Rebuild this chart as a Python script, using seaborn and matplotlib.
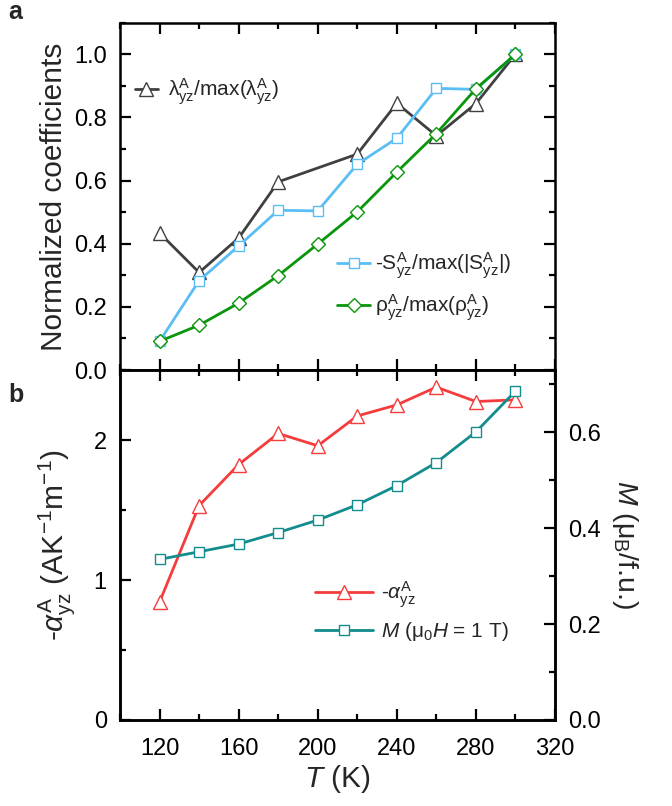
import numpy as np
import matplotlib
matplotlib.use("Agg")
import matplotlib.pyplot as plt
from matplotlib.ticker import MultipleLocator
import seaborn as sns

# ---- data ----
T = [120, 140, 160, 180, 200, 220, 240, 260, 280, 300]
T_lam = [120, 140, 160, 180, 220, 240, 260, 280, 300]   # no point at 200 K
lam_norm = [0.434, 0.309, 0.418, 0.596, 0.684, 0.845, 0.742, 0.844, 1.0]
S_norm = [0.091, 0.283, 0.393, 0.506, 0.504, 0.652, 0.734, 0.892, 0.889, 1.0]
rho_norm = [0.091, 0.142, 0.212, 0.299, 0.399, 0.501, 0.627, 0.749, 0.891, 1.0]

alpha = [0.843, 1.532, 1.825, 2.047, 1.959, 2.172, 2.251, 2.378, 2.275, 2.287]
M = [0.335, 0.351, 0.367, 0.391, 0.417, 0.449, 0.489, 0.537, 0.601, 0.686]

C_LAM = "#404040"
C_S = "#5ABEF5"
C_RHO = "#0A960A"
C_ALPHA = "#F53C3C"
C_M = "#128C8C"

sns.set_theme(style="ticks")
plt.rcParams["font.family"] = ["Liberation Sans", "DejaVu Sans"]
plt.rcParams["mathtext.fontset"] = "custom"
plt.rcParams["mathtext.rm"] = "Liberation Sans"
plt.rcParams["mathtext.it"] = "Liberation Sans:italic"
plt.rcParams["mathtext.default"] = "rm"

fig = plt.figure(figsize=(6.72, 8.06), dpi=100)
ax1 = fig.add_axes([0.1786, 0.5409, 0.6473, 0.4309])
ax2 = fig.add_axes([0.1786, 0.1067, 0.6473, 0.4342])
ax3 = ax2.twinx()

LW = 2.0
style = dict(markerfacecolor="white", markeredgewidth=1.0, lw=LW, legend=False)

# ---- panel a ----
sns.lineplot(x=T_lam, y=lam_norm, ax=ax1, color=C_LAM, marker="^", markersize=9.5,
             markeredgecolor=C_LAM, label=r"$\lambda^{A}_{yz}$/max($\lambda^{A}_{yz}$)", **style)
sns.lineplot(x=T, y=S_norm, ax=ax1, color=C_S, marker="s", markersize=7,
             markeredgecolor=C_S, label=r"-S$^{A}_{yz}$/max(|S$^{A}_{yz}$|)", **style)
sns.lineplot(x=T, y=rho_norm, ax=ax1, color=C_RHO, marker="D", markersize=7,
             markeredgecolor=C_RHO, label=r"$\rho^{A}_{yz}$/max($\rho^{A}_{yz}$)", **style)

# ---- panel b ----
sns.lineplot(x=T, y=alpha, ax=ax2, color=C_ALPHA, marker="^", markersize=9.5,
             markeredgecolor=C_ALPHA, label=r"-$\mathit{\alpha}^{A}_{yz}$", **style)
sns.lineplot(x=T, y=M, ax=ax3, color=C_M, marker="s", markersize=7,
             markeredgecolor=C_M, label=r"$\mathit{M}$ ($\mu_0\mathit{H}$ = 1 T)", **style)

TICK_FS = 17
LABEL_FS = 21.5
LEG_FS = 15

for ax in (ax1, ax2, ax3):
    ax.set_xlim(100, 320)
    for sp in ax.spines.values():
        sp.set_linewidth(1.8)
        sp.set_color("black")
    ax.tick_params(which="both", direction="in", width=1.6, colors="black",
                   labelsize=TICK_FS)
    ax.tick_params(which="major", length=8)
    ax.tick_params(which="minor", length=4.5)
    ax.tick_params(axis="y", which="major", pad=9.5)
    ax.tick_params(axis="x", which="major", pad=13)
    ax.xaxis.set_major_locator(MultipleLocator(40))
    ax.xaxis.set_minor_locator(MultipleLocator(20))

ax1.set_ylim(0, 1.1)
ax1.yaxis.set_major_locator(MultipleLocator(0.2))
ax1.yaxis.set_minor_locator(MultipleLocator(0.1))
ax1.yaxis.set_major_formatter(plt.FormatStrFormatter("%.1f"))
ax1.tick_params(which="both", top=True, right=True, bottom=True, left=True,
                labelbottom=False)
ax1.set_xlabel("")
ax1.set_ylabel("Normalized coefficients", fontsize=LABEL_FS, labelpad=4)

ax2.set_ylim(0, 2.5)
ax2.yaxis.set_major_locator(MultipleLocator(1))
ax2.yaxis.set_minor_locator(MultipleLocator(0.5))
ax2.tick_params(which="both", top=True, bottom=True, left=True, right=False)
ax2.set_xlabel(r"$\mathit{T}$ (K)", fontsize=LABEL_FS, labelpad=2)
ax2.set_ylabel(r"-$\mathit{\alpha}^{A}_{yz}$ (AK$^{-1}$m$^{-1}$)", fontsize=LABEL_FS, labelpad=12)

ax3.set_ylim(0, 0.73)
ax3.yaxis.set_major_locator(MultipleLocator(0.2))
ax3.yaxis.set_minor_locator(MultipleLocator(0.1))
ax3.yaxis.set_major_formatter(plt.FormatStrFormatter("%.1f"))
ax3.tick_params(which="both", right=True, left=False, top=False, bottom=False,
                labelbottom=False)
ax3.set_xlabel("")
ax3.set_ylabel(r"$\mathit{M}$ ($\mu_B$/f.u.)", fontsize=LABEL_FS - 1, rotation=270,
               labelpad=28)

# ---- legends ----
leg_kw = dict(frameon=False, fontsize=LEG_FS, borderpad=0, borderaxespad=0,
              loc="center left")
h1 = ax1.get_lines()
leg_a1 = ax1.legend(handles=[h1[0]], handlelength=1.1, handletextpad=0.5,
                    bbox_to_anchor=(0.034, 0.80), **leg_kw)
ax1.add_artist(leg_a1)
ax1.legend(handles=[h1[1], h1[2]], handlelength=1.6, handletextpad=0.2,
           labelspacing=0.55, bbox_to_anchor=(0.499, 0.24), **leg_kw)

ax3.legend(handles=[ax2.get_lines()[0], ax3.get_lines()[0]], handlelength=2.8,
           handletextpad=0.35, labelspacing=0.5, bbox_to_anchor=(0.448, 0.311), **leg_kw)

fig.text(0.012, 0.985, "a", fontsize=18, fontweight="bold", va="center", ha="left")
fig.text(0.012, 0.51, "b", fontsize=18, fontweight="bold", va="center", ha="left")

fig.savefig("out.png", dpi=100)
